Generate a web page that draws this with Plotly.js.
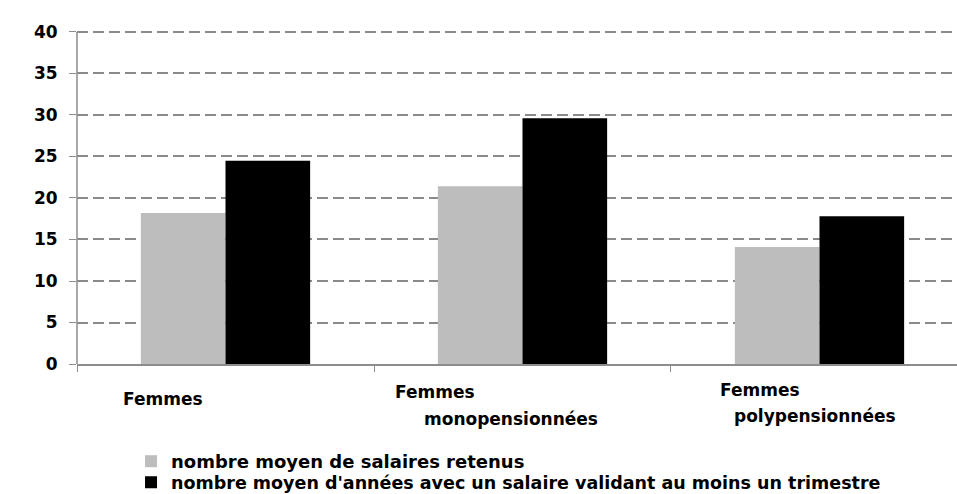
<!DOCTYPE html>
<html>
<head>
<meta charset="utf-8">
<script src="https://cdn.plot.ly/plotly-3.0.1.min.js"></script>
<style>html,body{margin:0;padding:0;background:#fff;}#chart{width:957px;height:494px;}</style>
</head>
<body>
<div id="chart"></div>
<script>
var categories = ["Femmes", "Femmes monopensionnées", "Femmes polypensionnées"];
var labelLines = [["Femmes"], ["Femmes", "monopensionnées"], ["Femmes", "polypensionnées"]];
var seriesNames = ["nombre moyen de salaires retenus", "nombre moyen d'années avec un salaire validant au moins un trimestre"];
var salairesRetenus = [18.2, 21.4, 14.1];
var anneesValidant = [24.5, 29.6, 17.8];
var yTicks = [0, 5, 10, 15, 20, 25, 30, 35, 40];

var FONT = "DejaVu Sans, sans-serif";

var traces = [
  {type: "bar", x: categories, y: salairesRetenus, name: "<b>" + seriesNames[0] + "</b>",
   marker: {color: "#bdbdbd"}, legend: "legend"},
  {type: "bar", x: categories, y: anneesValidant, name: "<b>" + seriesNames[1] + "</b>",
   marker: {color: "#000000"}, legend: "legend2"}
];

// plot area: t=27, b=130 -> height 337
var PH = 337;
function py(pixelY) { return (364 - pixelY) / PH; }

// label offsets (pixels) relative to category centre, per line
var lineShift = [[-104.5], [-129.5, -100.5], [-101.5, -87.5]];
var linePix = [[398.5], [391.5, 419], [390, 416]];
var annotations = [];
labelLines.forEach(function (lines, i) {
  lines.forEach(function (t, j) {
    annotations.push({
      text: "<b>" + t + "</b>", xref: "x", yref: "paper", x: categories[i], y: py(linePix[i][j]),
      xanchor: "left", yanchor: "middle", xshift: lineShift[i][j], showarrow: false,
      font: {family: FONT, size: 17, color: "#000"}
    });
  });
});

var yMax = yTicks[yTicks.length - 1];

var layout = {
  width: 957, height: 494,
  margin: {l: 77, r: 0, t: 27, b: 130, autoexpand: false},
  paper_bgcolor: "#fff", plot_bgcolor: "#fff",
  barmode: "group", bargap: 0.43, bargroupgap: 0,
  font: {family: FONT, size: 17, color: "#000"},
  xaxis: {
    type: "category", range: [-0.5, 2.463], showticklabels: false,
    showline: true, linecolor: "#8c8c8c", linewidth: 1.5,
    ticks: "outside", tickson: "boundaries", ticklen: 6, tickcolor: "#8c8c8c",
    showgrid: false, zeroline: false
  },
  yaxis: {
    range: [0, 40.6], tickvals: yTicks, ticktext: yTicks.map(function (v) { return "<b>" + v + "</b>"; }),
    tickfont: {family: FONT, size: 17, color: "#000"},
    showline: false,
    ticks: "outside", ticklen: 7, tickcolor: "#8c8c8c", ticklabelstandoff: 8,
    showgrid: true, gridcolor: "#8a8a8a", gridwidth: 2, griddash: "11px,5px",
    zeroline: false
  },
  shapes: [
    {type: "line", xref: "paper", yref: "y", x0: 0, x1: 0, y0: 0, y1: yMax,
     line: {color: "#8c8c8c", width: 1.5}, layer: "above"}
  ],
  legend: {
    x: 0.0614, y: py(443), xanchor: "left", yanchor: "top", orientation: "v",
    font: {family: FONT, size: 18, color: "#000"}, bgcolor: "rgba(0,0,0,0)"
  },
  legend2: {
    x: 0.0614, y: py(464.3), xanchor: "left", yanchor: "top", orientation: "v",
    font: {family: FONT, size: 17.5, color: "#000"}, bgcolor: "rgba(0,0,0,0)"
  },
  annotations: annotations,
  showlegend: true
};

Plotly.newPlot("chart", traces, layout, {displayModeBar: false, staticPlot: true});
</script>
</body>
</html>
